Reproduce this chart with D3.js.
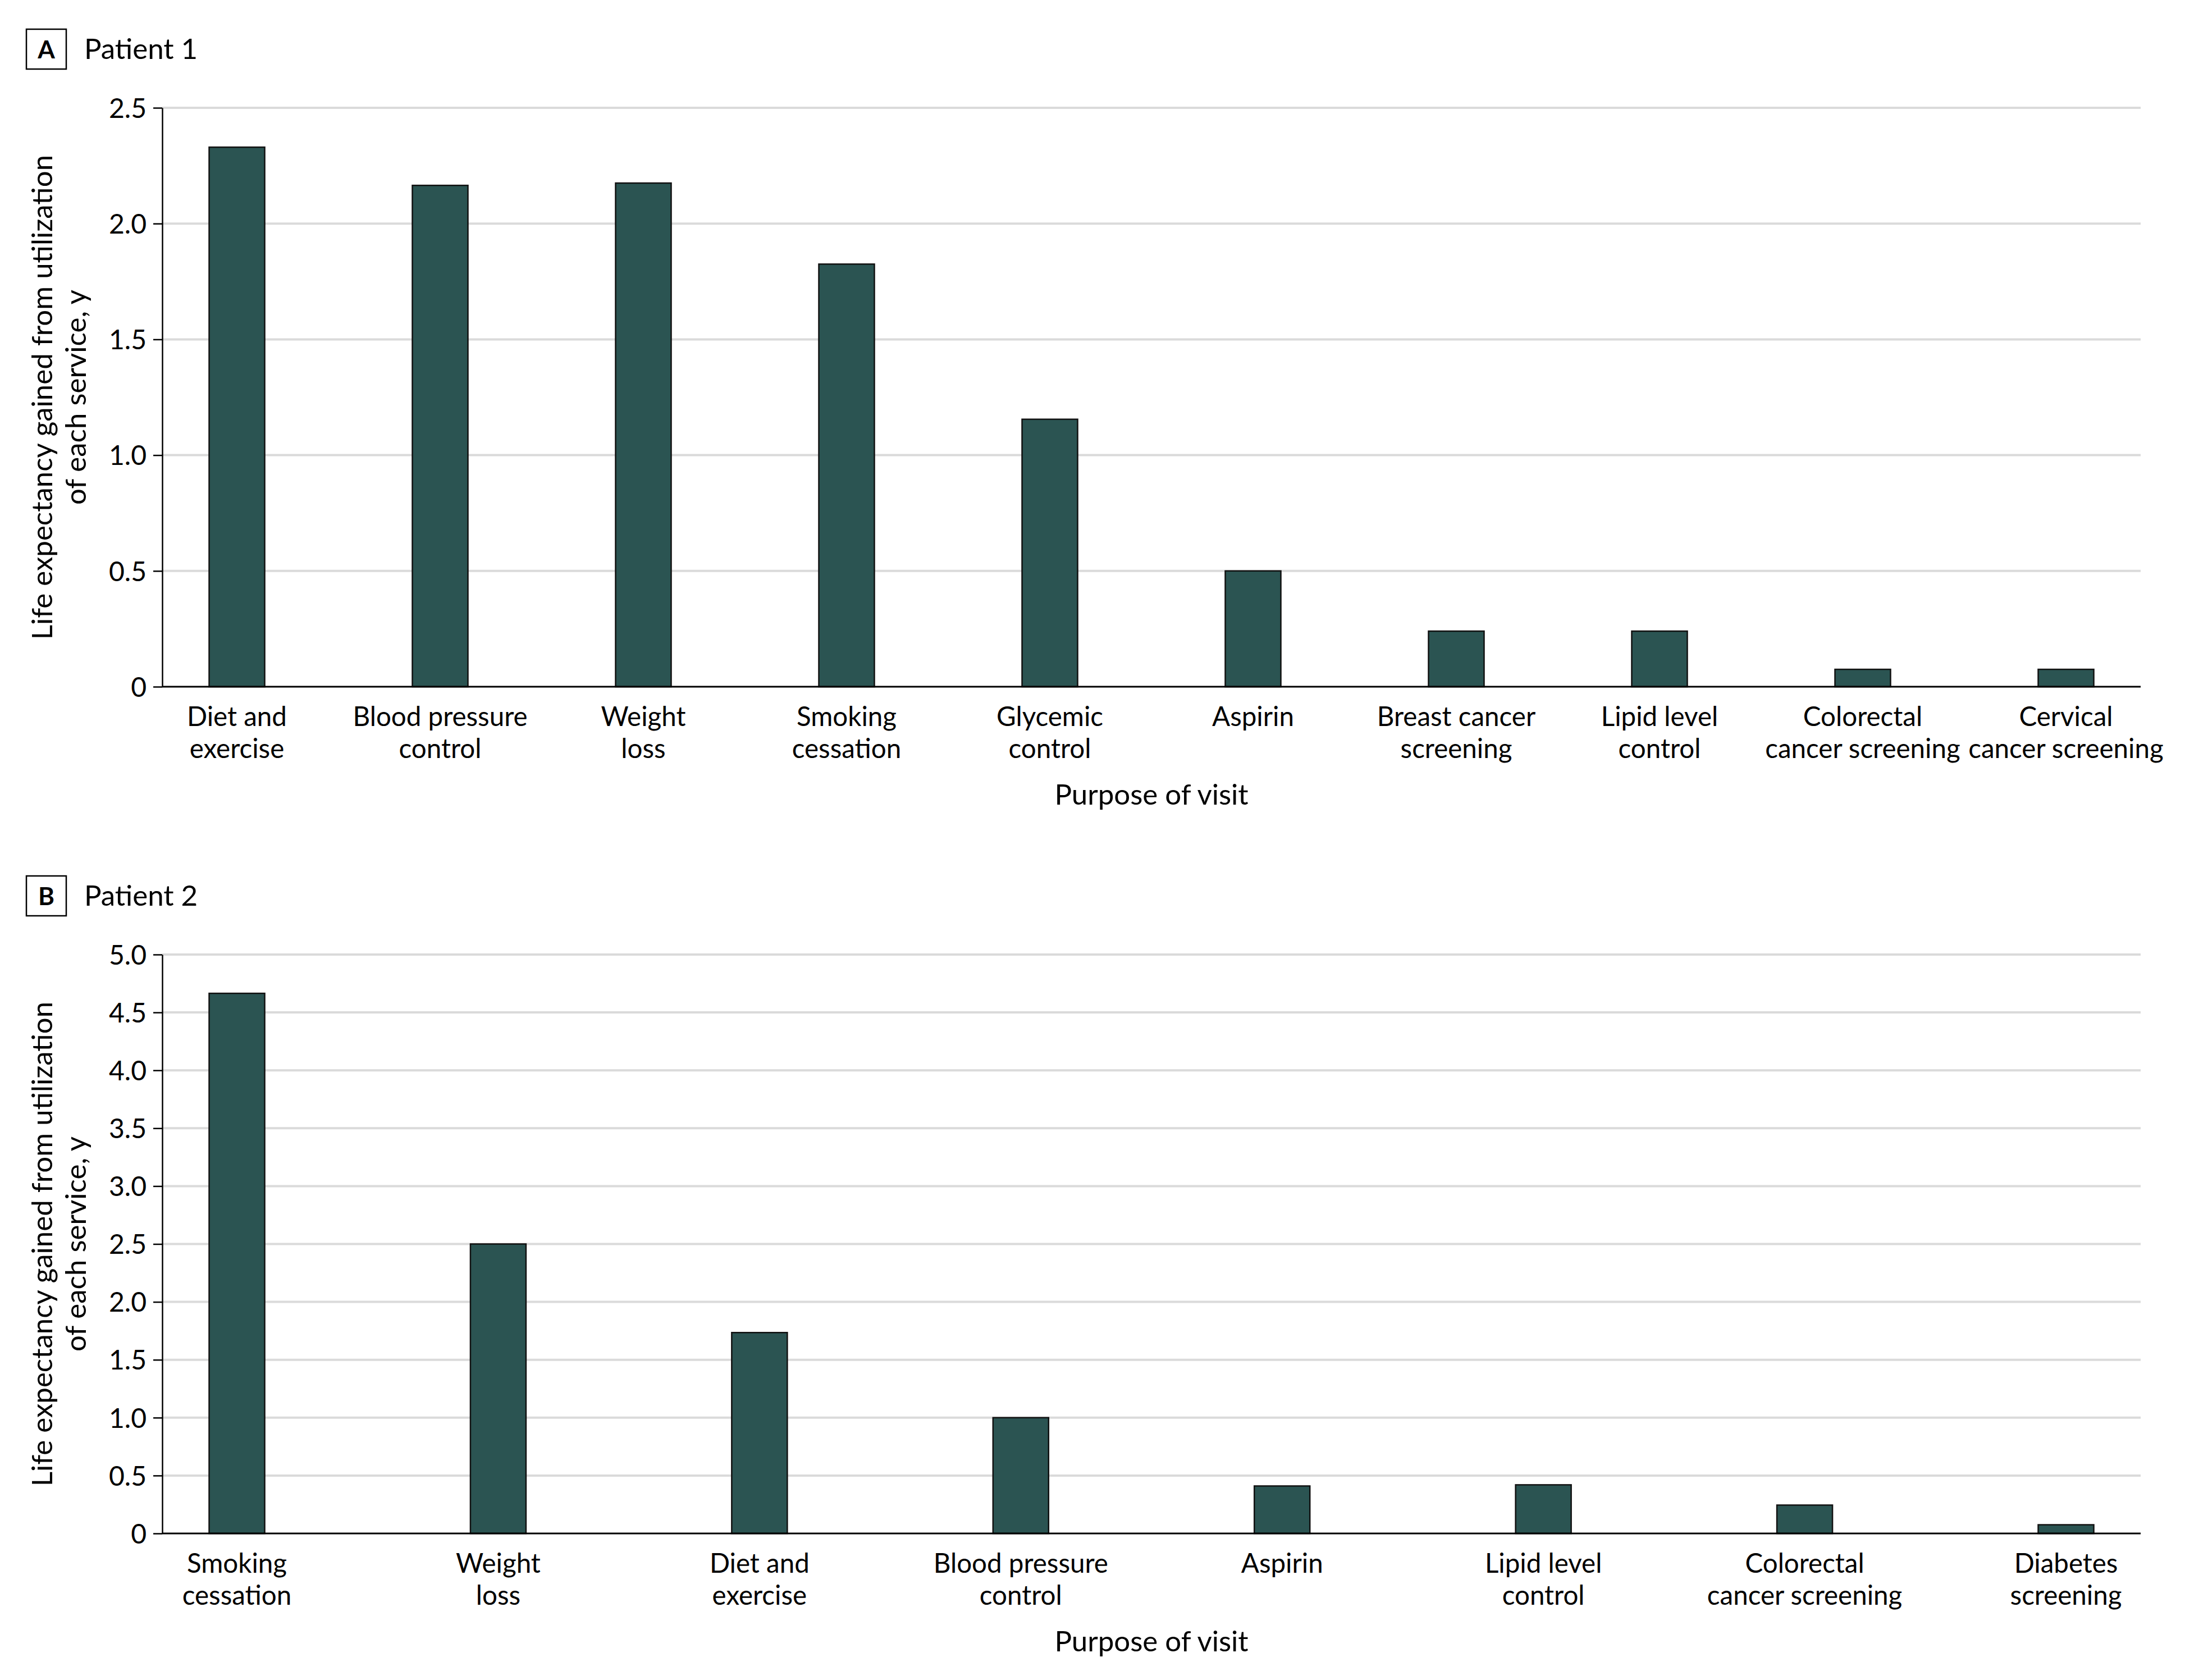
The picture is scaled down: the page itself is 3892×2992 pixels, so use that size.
<!DOCTYPE html>
<html>
<head>
<meta charset="utf-8">
<script src="https://cdn.jsdelivr.net/npm/d3@7"></script>
<style>
  body { margin: 0; background: #ffffff; }
  svg { display: block; }
  text { font-family: Lato, "Open Sans", sans-serif; fill: #000; }
</style>
</head>
<body>
<svg id="chart" width="3892" height="2992"></svg>
<script>
// ---- Panel A data (Patient 1) ----
const categoriesA = [
  "Diet and\nexercise", "Blood pressure\ncontrol", "Weight\nloss", "Smoking\ncessation",
  "Glycemic\ncontrol", "Aspirin", "Breast cancer\nscreening", "Lipid level\ncontrol",
  "Colorectal\ncancer screening", "Cervical\ncancer screening"
];
const valuesA = [2.33, 2.165, 2.175, 1.825, 1.155, 0.50, 0.24, 0.24, 0.075, 0.075];
const ticksA = [0, 0.5, 1.0, 1.5, 2.0, 2.5];
const tickLabelsA = ["0", "0.5", "1.0", "1.5", "2.0", "2.5"];

// ---- Panel B data (Patient 2) ----
const categoriesB = [
  "Smoking\ncessation", "Weight\nloss", "Diet and\nexercise", "Blood pressure\ncontrol",
  "Aspirin", "Lipid level\ncontrol", "Colorectal\ncancer screening", "Diabetes\nscreening"
];
const valuesB = [4.665, 2.50, 1.735, 1.0, 0.41, 0.42, 0.245, 0.075];
const ticksB = [0, 0.5, 1.0, 1.5, 2.0, 2.5, 3.0, 3.5, 4.0, 4.5, 5.0];
const tickLabelsB = ["0", "0.5", "1.0", "1.5", "2.0", "2.5", "3.0", "3.5", "4.0", "4.5", "5.0"];

const yTitleLines = ["Life expectancy gained from utilization", "of each service, y"];
const xTitle = "Purpose of visit";

const svg = d3.select("#chart");

function drawPanel(o) {
  const g = svg.append("g").attr("transform", `translate(0,${o.offsetY})`);
  const left = 289, right = 3813, top = 192, bottom = 1223, inset = 133;
  const x = d3.scalePoint().domain(o.categories).range([left + inset, right - inset]);
  const y = d3.scaleLinear().domain([0, o.ticks[o.ticks.length - 1]]).range([bottom, top]);
  const barW = 99;

  // panel label
  g.append("rect").attr("x", 47).attr("y", 52).attr("width", 71).attr("height", 71)
    .attr("fill", "none").attr("stroke", "#000").attr("stroke-width", 2.5);
  g.append("text").attr("x", 82.5).attr("y", 104).attr("text-anchor", "middle")
    .attr("font-size", 44).attr("font-weight", 700).text(o.letter);
  g.append("text").attr("x", 150).attr("y", 105).attr("font-size", 51).text(o.title);

  // gridlines
  g.append("g").selectAll("line").data(o.ticks.filter(t => t > 0)).join("line")
    .attr("x1", left).attr("x2", right)
    .attr("y1", d => y(d)).attr("y2", d => y(d))
    .attr("stroke", "#dadada").attr("stroke-width", 4);

  // bars
  g.append("g").selectAll("rect").data(o.values).join("rect")
    .attr("x", (d, i) => x(o.categories[i]) - barW / 2)
    .attr("width", barW)
    .attr("y", d => y(d))
    .attr("height", d => bottom - y(d))
    .attr("fill", "#2b5452")
    .attr("stroke", "#111").attr("stroke-width", 2.5);

  // y axis
  const yAxis = d3.axisLeft(y).tickValues(o.ticks)
    .tickFormat((d, i) => o.tickLabels[i]).tickSize(16).tickSizeOuter(0).tickPadding(12);
  const ya = g.append("g").attr("transform", `translate(${left},0)`).call(yAxis);
  ya.attr("font-family", null).attr("font-size", null);
  ya.select(".domain").attr("stroke", "#000").attr("stroke-width", 2.5);
  ya.selectAll(".tick line").attr("stroke", "#000").attr("stroke-width", 2.5);
  ya.selectAll(".tick text").attr("font-size", 48).attr("fill", "#000").attr("dy", "0.36em");

  // x baseline
  const xAxis = d3.axisBottom(x).tickSize(0).tickFormat("");
  const xa = g.append("g").attr("transform", `translate(0,${bottom})`).call(xAxis);
  xa.select(".domain").attr("d", `M${left},0H${right}`).attr("stroke", "#000").attr("stroke-width", 3);

  // category labels
  const lbl = g.append("g").selectAll("text").data(o.categories).join("text")
    .attr("text-anchor", "middle").attr("font-size", 47.5);
  lbl.each(function(d) {
    const t = d3.select(this);
    d.split("\n").forEach((line, k) => {
      t.append("tspan").attr("x", x(d)).attr("y", bottom + 70 + k * 57).text(line);
    });
  });

  // x title
  g.append("text").attr("x", (left + right) / 2).attr("y", bottom + 210)
    .attr("text-anchor", "middle").attr("font-size", 51).text(xTitle);

  // y title
  const yt = g.append("text")
    .attr("transform", `translate(93,${(top + bottom) / 2}) rotate(-90)`)
    .attr("text-anchor", "middle").attr("font-size", 51);
  yTitleLines.forEach((line, k) => {
    yt.append("tspan").attr("x", 0).attr("y", k * 60).text(line);
  });
}

drawPanel({ offsetY: 0, letter: "A", title: "Patient 1", categories: categoriesA, values: valuesA, ticks: ticksA, tickLabels: tickLabelsA });
drawPanel({ offsetY: 1508, letter: "B", title: "Patient 2", categories: categoriesB, values: valuesB, ticks: ticksB, tickLabels: tickLabelsB });
</script>
</body>
</html>
